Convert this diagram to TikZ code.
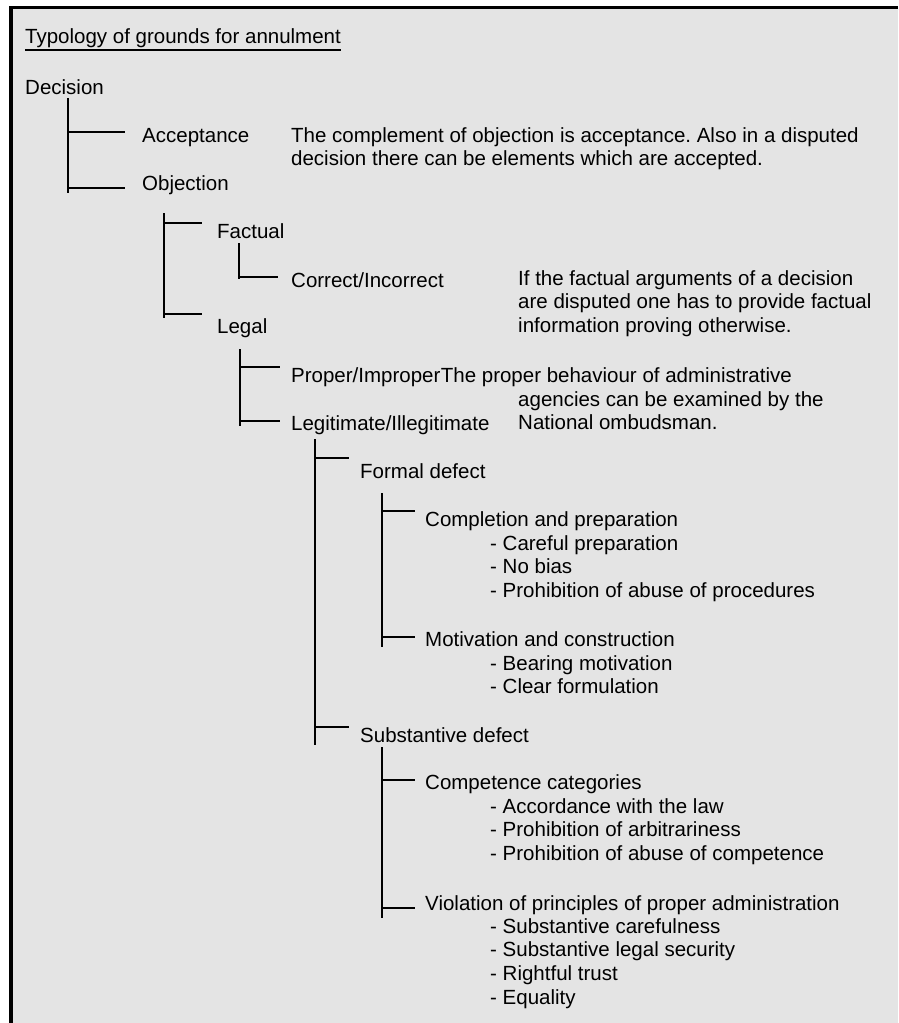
\documentclass[tikz,border=0pt]{standalone}
\usepackage{fontspec}
\setmainfont{Liberation Sans}
\usepackage{xcolor}
\usepackage{tikz}
\usetikzlibrary{positioning}
\definecolor{panelgray}{HTML}{E4E4E4}
\newcommand{\leftlines}[1]{\begin{tabular}[t]{@{}l@{}}#1\end{tabular}}
\frenchspacing

\tikzset{
  trunk/.style={line width=2.8pt},
  twig/.style={trunk, shorten >=#1},
  twig/.default=12pt,
  item/.style={inner sep=0pt, anchor=base west},
  remark/.style={item},
}

\begin{document}
\begin{tikzpicture}[x=1pt, y=-1pt,
    every node/.style={font=\fontsize{20.5}{23.8}\selectfont}]
  \useasboundingbox (0,0) rectangle (898,1023);
  % panel
  \fill[panelgray] (9,6) rectangle (898,1023);
  \draw[line width=3.5pt] (10.75,1023) -- (10.75,7.5) -- (898,7.5);

  % heading
  \node[item] (title) at (25,43) {Typology of grounds for annulment};
  \draw[line width=2.5pt] ([yshift=-7pt]title.base west) -- ([yshift=-7pt]title.base east);

  % level 1
  \node[item] (decision) at (25,94) {Decision};
  \node[item] (accept) at (142,142) {Acceptance};
  \node[item] (object) at (142,190) {Objection};
  \node[remark] (acceptnote) at (291,142)
    {\leftlines{The complement of objection is acceptance. Also in a disputed\\
     decision there can be elements which are accepted.}};
  \coordinate (decT) at (68,98);
  \coordinate (decB) at (68,193);
  \coordinate (acceptJ) at (68,132);
  \coordinate (objectJ) at (68,188);
  \draw[trunk] (decT) -- (decB);
  \draw[twig=17pt] (acceptJ) -- (acceptJ -| accept.west);
  \draw[twig=17pt] (objectJ) -- (objectJ -| object.west);

  % level 2
  \node[item] (factual) at (217,238) {Factual};
  \node[item] (legal) at (217,333) {Legal};
  \coordinate (objT) at (164,213);
  \coordinate (objB) at (164,318);
  \coordinate (factualJ) at (164,223);
  \coordinate (legalJ) at (164,314);
  \draw[trunk] (objT) -- (objB);
  \draw[twig=15pt] (factualJ) -- (factualJ -| factual.west);
  \draw[twig=15pt] (legalJ) -- (legalJ -| legal.west);

  % factual
  \node[item] (correct) at (291,287) {Correct/Incorrect};
  \node[remark] (correctnote) at (518,285)
    {\leftlines{If the factual arguments of a decision\\
     are disputed one has to provide factual\\
     information proving otherwise.}};
  \coordinate (factT) at (239,243);
  \coordinate (factB) at (239,279);
  \coordinate (correctJ) at (239,277);
  \draw[trunk] (factT) -- (factB);
  \draw[twig=13pt] (correctJ) -- (correctJ -| correct.west);

  % legal
  \node[item] (proper) at (291,382) {Proper/Improper};
  \node[item] (legit) at (291,430) {Legitimate/Illegitimate};
  \node[item] (propernote) at (proper.base east) {The proper behaviour of administrative};
  \node[remark] (propernotecont) at (518,406)
    {\leftlines{agencies can be examined by the\\
     National ombudsman.}};
  \coordinate (legalT) at (240,349);
  \coordinate (legalB) at (240,426);
  \coordinate (properJ) at (240,367);
  \coordinate (legitJ) at (240,421);
  \draw[trunk] (legalT) -- (legalB);
  \draw[twig=11pt] (properJ) -- (properJ -| proper.west);
  \draw[twig=11pt] (legitJ) -- (legitJ -| legit.west);

  % legitimate
  \node[item] (formal) at (360,478) {Formal defect};
  \node[item] (subst) at (360,742) {Substantive defect};
  \coordinate (legitT) at (315,439);
  \coordinate (legitB) at (315,745);
  \coordinate (formalJ) at (315,458);
  \coordinate (substJ) at (315,727);
  \draw[trunk] (legitT) -- (legitB);
  \draw[twig=11pt] (formalJ) -- (formalJ -| formal.west);
  \draw[twig=11pt] (substJ) -- (substJ -| subst.west);

  % formal defect
  \node[item] (complete) at (425,526) {Completion and preparation};
  \node[remark] (completelist) at (490,550)
    {\leftlines{- Careful preparation\\
     - No bias\\
     - Prohibition of abuse of procedures}};
  \node[item] (motive) at (425,646) {Motivation and construction};
  \node[remark] (motivelist) at (490,670)
    {\leftlines{- Bearing motivation\\
     - Clear formulation}};
  \coordinate (formalT) at (382,493);
  \coordinate (formalB) at (382,647);
  \coordinate (completeJ) at (382,511);
  \coordinate (motiveJ) at (382,637);
  \draw[trunk] (formalT) -- (formalB);
  \draw[twig=10pt] (completeJ) -- (completeJ -| complete.west);
  \draw[twig=10pt] (motiveJ) -- (motiveJ -| motive.west);

  % substantive defect
  \node[item] (compet) at (425,789) {Competence categories};
  \node[remark] (competlist) at (490,813)
    {\leftlines{- Accordance with the law\\
     - Prohibition of arbitrariness\\
     - Prohibition of abuse of competence}};
  \node[item] (violate) at (425,910) {Violation of principles of proper administration};
  \node[remark] (violatelist) at (490,933)
    {\leftlines{- Substantive carefulness\\
     - Substantive legal security\\
     - Rightful trust\\
     - Equality}};
  \coordinate (substT) at (382,747);
  \coordinate (substB) at (382,918);
  \coordinate (competJ) at (382,780);
  \coordinate (violateJ) at (382,908);
  \draw[trunk] (substT) -- (substB);
  \draw[twig=10pt] (competJ) -- (competJ -| compet.west);
  \draw[twig=10pt] (violateJ) -- (violateJ -| violate.west);
\end{tikzpicture}
\end{document}
